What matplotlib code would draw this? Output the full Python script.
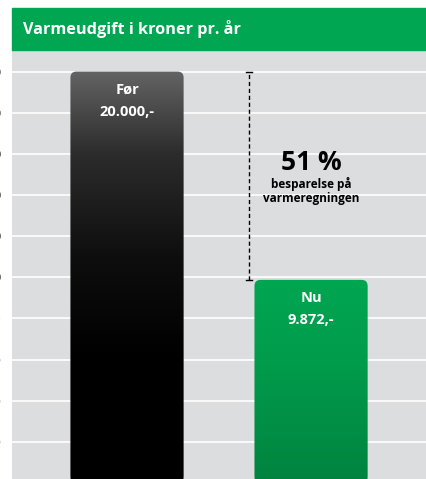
import numpy as np
import matplotlib
matplotlib.use('Agg')
import matplotlib.pyplot as plt
from matplotlib.patches import FancyBboxPatch, Rectangle
from matplotlib.colors import LinearSegmentedColormap

# data
categories = ['Før', 'Nu']
values = [20000, 9872]
value_labels = ['20.000,-', '9.872,-']
saving_pct = '51 %'
saving_lines = ['besparelse på', 'varmeregningen']
title = 'Varmeudgift i kroner pr. år'
y_ticks = list(range(2000, 22000, 2000))
y_tick_labels = [f'{v:,}'.replace(',', '.') for v in y_ticks]

plt.rcParams['font.family'] = ['Open Sans', 'DejaVu Sans']

W, H = 427, 479
fig = plt.figure(figsize=(W / 100, H / 100), dpi=100)
fig.patch.set_facecolor('white')

# header band
fig.patches.append(Rectangle((12 / W, 1 - 50 / H), 1 - 12 / W, 42 / H,
                             transform=fig.transFigure, color='#00a651', zorder=0))
fig.text(23 / W, 1 - 29 / H, title, color='white', fontsize=11.7,
         fontweight='bold', va='center', ha='left')

ax = fig.add_axes([12 / W, 0, 1 - 12 / W, 1 - 50 / H])
ax.set_facecolor('#dcdddf')
for s in ax.spines.values():
    s.set_visible(False)

x = np.arange(len(categories))
width = 0.615
ax.set_yticks(y_ticks)
ax.set_yticklabels(y_tick_labels, fontsize=8, color='#222222', fontweight='bold')
ax.tick_params(axis='y', length=0, pad=7.5)
ax.set_xticks([])
ax.grid(axis='y', color='white', linewidth=1.2)
ax.set_axisbelow(True)

bars = ax.bar(x, values, width, color='none', zorder=2)

cmaps = [
    LinearSegmentedColormap.from_list('dark', [(0, '#000000'), (0.3, '#000000'),
                                               (0.55, '#0e0e0e'), (0.8, '#2c2c2c'),
                                               (1, '#636363')]),
    LinearSegmentedColormap.from_list('green', [(0, '#00833f'), (0.6, '#009c4c'),
                                                (1, '#00a651')]),
]

ax.set_xlim(-0.625, 1.63)
ax.set_ylim(190, 21050)

# aspect of data units (y per px / x per px) for rounded corners
xpp = (1.63 + 0.625) / (W - 12)
ypp = (21050 - 190) / (H - 50)
for bar, cm in zip(bars, cmaps):
    bx, by = bar.get_x(), bar.get_y()
    bw, bh = bar.get_width(), bar.get_height()
    clip = FancyBboxPatch((bx, by), bw, bh,
                          boxstyle=f'round,pad=0,rounding_size={6 * xpp}',
                          mutation_aspect=ypp / xpp, facecolor='none',
                          edgecolor='none', transform=ax.transData)
    ax.add_patch(clip)
    grad = np.linspace(0, 1, 256).reshape(-1, 1)
    im = ax.imshow(grad, extent=(bx, bx + bw, by, by + bh), origin='lower',
                   cmap=cm, aspect='auto', zorder=3)
    im.set_clip_path(clip)

ax.set_xlim(-0.625, 1.63)
ax.set_ylim(190, 21050)

# labels inside bars
for xi, cat, lab, v in zip(x, categories, value_labels, values):
    ax.text(xi, v - 18 * ypp, cat, ha='center', va='center', color='white',
            fontsize=10.5, fontweight='bold', zorder=4)
    ax.text(xi, v - 40 * ypp, lab, ha='center', va='center', color='white',
            fontsize=10.5, fontweight='bold', zorder=4)

# saving bracket
xb = 0.663
ax.plot([xb, xb], [values[1], values[0]], color='black', linestyle=(0, (3, 2)),
        linewidth=1, zorder=4)
for yv in values:
    ax.plot([xb - 3 * xpp, xb + 3 * xpp], [yv, yv], color='black', linewidth=1, zorder=4)

mid = (values[0] + values[1]) / 2
ax.text(1, mid + 13 * ypp, saving_pct, ha='center', va='center',
        fontsize=19, fontweight='bold', color='black', zorder=4)
ax.text(1, mid - 8 * ypp, saving_lines[0], ha='center', va='center',
        fontsize=8.5, fontweight='bold', color='black', zorder=4)
ax.text(1, mid - 23 * ypp, saving_lines[1], ha='center', va='center',
        fontsize=8.5, fontweight='bold', color='black', zorder=4)

fig.savefig('out.png', dpi=100)
